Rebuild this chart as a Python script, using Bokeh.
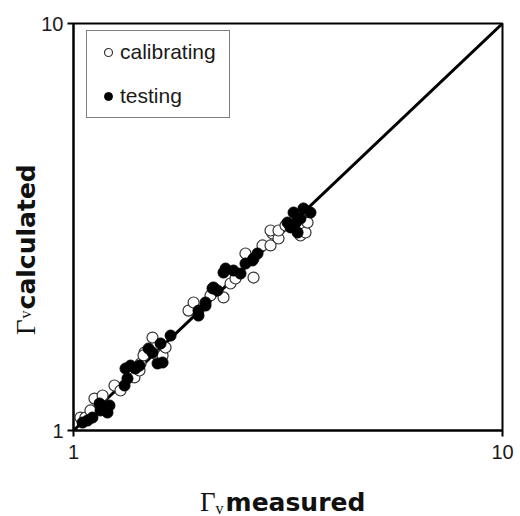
from bokeh.plotting import figure
from bokeh.models import (FixedTicker, Legend, LegendItem, Div,
                          CustomJSTickFormatter)
from bokeh.layouts import row, column
from bokeh.embed import file_html
from bokeh.resources import INLINE

# Γv: calibrating set (measured, calculated)
calib_x = [1.038, 1.066, 1.095, 1.119, 1.169, 1.246, 1.287, 1.387, 1.425, 1.433,
           1.464, 1.456, 1.570, 1.528, 1.613, 1.639, 1.854, 1.905, 2.086, 2.237,
           2.323, 2.386, 2.517, 2.628, 2.758, 2.879, 2.910, 2.879, 3.005, 3.005,
           3.120, 3.381, 3.474, 3.512]
calib_y = [1.076, 1.076, 1.120, 1.198, 1.219, 1.290, 1.254, 1.350, 1.404, 1.461,
           1.554, 1.529, 1.529, 1.692, 1.529, 1.599, 1.971, 2.063, 2.147, 2.123,
           2.297, 2.363, 2.722, 2.376, 2.849, 2.849, 3.048, 3.100, 2.963, 3.100,
           3.189, 3.014, 3.065, 3.243]

# Γv: testing set (measured, calculated)
test_x = [1.050, 1.078, 1.107, 1.150, 1.156, 1.187, 1.213, 1.200, 1.315, 1.336,
          1.322, 1.358, 1.394, 1.425, 1.496, 1.528, 1.570, 1.596, 1.684, 1.613,
          1.956, 1.956, 2.031, 2.031, 2.109, 2.120, 2.166, 2.237, 2.262, 2.360,
          2.451, 2.517, 2.614, 2.628, 2.685, 3.154, 3.205, 3.258, 3.300, 3.329,
          3.381, 3.436, 3.568]
test_y = [1.046, 1.058, 1.076, 1.165, 1.120, 1.133, 1.152, 1.107, 1.290, 1.342,
          1.420, 1.444, 1.420, 1.444, 1.590, 1.554, 1.461, 1.636, 1.711, 1.469,
          1.971, 1.916, 2.028, 2.063, 2.234, 2.246, 2.208, 2.444, 2.500, 2.472,
          2.430, 2.572, 2.617, 2.646, 2.722, 3.243, 3.155, 3.432, 3.243, 3.065,
          3.318, 3.512, 3.432]

# 1:1 reference line
line_x = [1, 10]
line_y = [1, 10]
axis_ticks = [1, 10]

LEFT_W = 36      # width of the strip holding the vertical axis title
FIG_H = 470      # figure height; the horizontal axis title sits below it

p = figure(width=520 - LEFT_W, height=FIG_H, x_axis_type="log", y_axis_type="log",
           x_range=(1, 10), y_range=(1, 10),
           output_backend="svg", toolbar_location=None,
           min_border_left=73 - LEFT_W, min_border_right=18,
           min_border_top=23, min_border_bottom=FIG_H - 430, margin=0)

p.background_fill_color = "white"
p.border_fill_color = "white"
p.outline_line_color = "black"
p.outline_line_width = 2
p.xgrid.visible = False
p.ygrid.visible = False

for ax in (p.xaxis[0], p.yaxis[0]):
    ax.ticker = FixedTicker(ticks=axis_ticks, minor_ticks=[])
    ax.formatter = CustomJSTickFormatter(code="return Math.round(tick).toString();")
    ax.axis_line_color = "black"
    ax.axis_line_width = 2
    ax.major_tick_line_color = "black"
    ax.major_tick_line_width = 2
    ax.major_tick_out = 6
    ax.major_tick_in = 0
    ax.minor_tick_line_color = None
    ax.major_label_text_font = "Liberation Sans"
    ax.major_label_text_font_size = "20px"
    ax.major_label_text_color = "#1a1a1a"
p.xaxis[0].major_label_standoff = 8
p.yaxis[0].major_label_standoff = 4

p.line(line_x, line_y, line_color="black", line_width=3)

r_cal = p.scatter(calib_x, calib_y, marker="circle", size=11,
                  fill_color="white", line_color="#333333", line_width=1.2)
r_test = p.scatter(test_x, test_y, marker="circle", size=11,
                   fill_color="black", line_color="black", line_width=1)

legend = Legend(items=[LegendItem(label="calibrating", renderers=[r_cal]),
                       LegendItem(label="testing", renderers=[r_test])],
                location=(13, 312), margin=0, padding=9, spacing=20,
                glyph_width=24, glyph_height=20, label_height=20,
                label_width=100, label_standoff=0,
                label_text_font="Liberation Sans", label_text_font_size="21px",
                label_text_color="#1a1a1a",
                border_line_color="black", border_line_width=1.5,
                background_fill_color="white", background_fill_alpha=1)
p.add_layout(legend)

# Axis titles: serif capital gamma, small v, bold word
GAMMA = '<span style="font-family:\'Liberation Serif\';font-size:27px;">Γ</span>'

x_title = Div(width=520, height=516 - FIG_H, margin=0, text=(
    '<div style="position:relative;width:520px;height:46px;">'
    '<div style="position:absolute;left:200px;top:19px;white-space:nowrap;'
    'line-height:27px;font-family:\'Liberation Serif\';font-size:27px;color:#111;">'
    + GAMMA +
    '<span style="font-family:\'Liberation Serif\';font-size:16px;line-height:1;'
    'vertical-align:-3px;">v</span>'
    '<span style="font-family:\'DejaVu Sans\';font-size:25px;font-weight:bold;'
    'margin-left:2px;">measured</span>'
    '</div></div>'))

y_title = Div(width=LEFT_W, height=FIG_H, margin=0, text=(
    '<div style="position:relative;width:36px;height:470px;">'
    '<div style="position:absolute;left:13px;top:335px;white-space:nowrap;'
    'transform-origin:0 0;transform:rotate(-90deg);'
    'line-height:27px;font-family:\'Liberation Serif\';font-size:27px;color:#111;">'
    + GAMMA +
    '<span style="font-family:\'Liberation Serif\';font-size:16px;line-height:1;'
    'vertical-align:4px;margin-left:1px;">v</span>'
    '<span style="font-family:\'DejaVu Sans\';font-size:25px;font-weight:bold;'
    'margin-left:1px;">calculated</span>'
    '</div></div>'))

layout = column(row(y_title, p, margin=0, spacing=0), x_title, margin=0, spacing=0)

open("out.html", "w").write(file_html(layout, INLINE))
